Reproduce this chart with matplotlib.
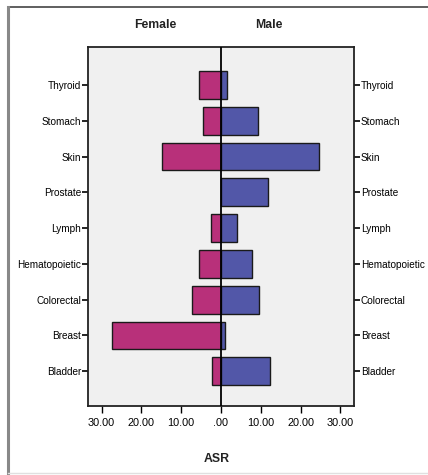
import matplotlib
matplotlib.use("Agg")
import matplotlib.pyplot as plt
from matplotlib.lines import Line2D

# --- data ---
sites = ["Thyroid", "Stomach", "Skin", "Prostate", "Lymph",
         "Hematopoietic", "Colorectal", "Breast", "Bladder"]
female_asr = [5.5, 4.4, 14.7, 0.0, 2.5, 5.4, 7.4, 27.3, 2.3]
male_asr = [1.6, 9.4, 24.5, 11.9, 3.9, 7.8, 9.6, 0.9, 12.3]
tick_vals = [-30, -20, -10, 0, 10, 20, 30]
tick_labels = ["30.00", "20.00", "10.00", ".00", "10.00", "20.00", "30.00"]

FEMALE_COLOR = "#b8307a"
MALE_COLOR = "#5257a8"
W, H = 428, 475

plt.rcParams['font.family'] = ['Liberation Sans', 'DejaVu Sans']

fig = plt.figure(figsize=(W / 100, H / 100), dpi=100)
# plot area in pixels: x 88..354, y 47..406
ax = fig.add_axes([88 / W, 1 - 406 / H, (354 - 88) / W, (406 - 47) / H])
ax.set_facecolor("#f0f0f0")

y = list(range(len(sites)))
ax.barh(y, [-v for v in female_asr], height=0.78, color=FEMALE_COLOR,
        edgecolor="#1a1a1a", linewidth=1.0, zorder=2)
ax.barh(y, male_asr, height=0.78, color=MALE_COLOR,
        edgecolor="#1a1a1a", linewidth=1.0, zorder=2)
ax.axvline(0, color="black", linewidth=1.3, zorder=3)

ax.set_xlim(-33.4, 33.4)
ax.set_ylim(8.97, -1.06)

ax.set_yticks(y)
ax.set_yticklabels(sites, fontsize=7.2)
ax.tick_params(axis="y", which="both", left=True, right=True,
               labelleft=True, labelright=True, length=4, width=1.2, pad=1)
ax.set_xticks(tick_vals)
ax.set_xticklabels(tick_labels, fontsize=7.8)
ax.tick_params(axis="x", length=5, width=1.0, pad=4)

for s in ax.spines.values():
    s.set_linewidth(1.3)
    s.set_color("#222222")

# titles
fig.text(155 / W, 1 - 25 / H, "Female", ha="center", va="center",
         fontsize=8.8, fontweight="bold", color="#222222")
fig.text(269 / W, 1 - 25 / H, "Male", ha="center", va="center",
         fontsize=8.8, fontweight="bold", color="#222222")
fig.text(217 / W, 1 - 459 / H, "ASR", ha="center", va="center",
         fontsize=8.8, fontweight="bold", color="#222222")

# outer frame
fig.add_artist(Line2D([8 / W, 1], [1 - 7 / H, 1 - 7 / H], color="#444444",
                      linewidth=1.2, transform=fig.transFigure))
fig.add_artist(Line2D([8 / W, 8 / W], [1 - 7 / H, 0], color="#888888",
                      linewidth=2.2, transform=fig.transFigure))
fig.add_artist(Line2D([8 / W, 1], [1 - 473 / H, 1 - 473 / H], color="#e0e0e0",
                      linewidth=1.0, transform=fig.transFigure))

fig.savefig("out.png", dpi=100)
